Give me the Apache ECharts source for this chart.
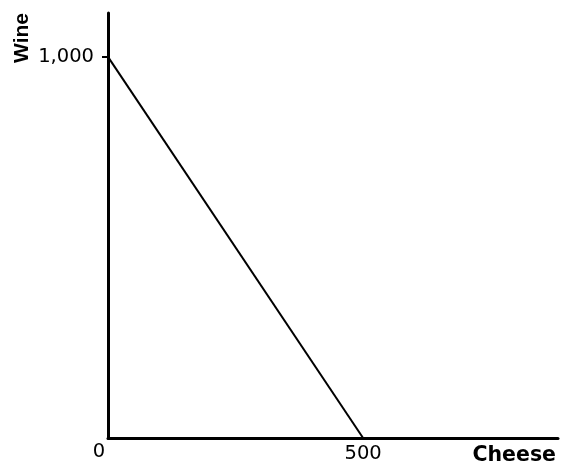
<!DOCTYPE html>
<html>
<head>
<meta charset="utf-8">
<script src="https://cdn.jsdelivr.net/npm/echarts@6/dist/echarts.min.js"></script>
<style>html,body{margin:0;padding:0;background:#fff}#c{width:561px;height:466px}</style>
</head>
<body>
<div id="c"></div>
<script>
var cheese = [0, 500];
var wine = [1000, 0];
var xTickLabels = [0, 500];
var yTickLabels = [1000];
var xName = 'Cheese';
var yName = 'Wine';

var chart = echarts.init(document.getElementById('c'), null, {renderer: 'canvas'});
var pts = cheese.map(function (c, i) { return [c, wine[i]]; });
chart.setOption({
  animation: false,
  backgroundColor: '#fff',
  grid: {left: 108, right: 3, top: 13, bottom: 26, containLabel: false},
  xAxis: {
    type: 'value', min: 0, max: 882, interval: 500,
    name: xName, nameLocation: 'end', nameGap: -2,
    nameTextStyle: {fontFamily: 'DejaVu Sans', fontWeight: 'bold', fontSize: 20.5, color: '#000', align: 'right', verticalAlign: 'top', padding: [7, 0, 0, 0]},
    axisLine: {show: true, onZero: false, lineStyle: {color: '#000', width: 3}},
    axisTick: {show: false},
    splitLine: {show: false},
    axisLabel: {
      customValues: xTickLabels, margin: 4, color: '#000', fontFamily: 'DejaVu Sans', fontSize: 19.5,
      formatter: function (v) { return v === 0 ? '{o|0}' : '{f|' + v + '}'; },
      rich: {
        o: {fontFamily: 'DejaVu Sans', fontSize: 19.5, color: '#000', padding: [0, 18, 0, 0]},
        f: {fontFamily: 'DejaVu Sans', fontSize: 19.5, color: '#000', padding: [2, 0, 0, 0]}
      }
    }
  },
  yAxis: {
    type: 'value', min: 0, max: 1115, interval: 1000,
    axisLine: {show: true, onZero: false, lineStyle: {color: '#000', width: 3}},
    axisTick: {show: true, customValues: yTickLabels, length: 6, lineStyle: {color: '#000', width: 2}},
    splitLine: {show: false},
    axisLabel: {
      customValues: yTickLabels, margin: 14, color: '#000', fontFamily: 'DejaVu Sans', fontSize: 19.5,
      formatter: function (v) { return v.toLocaleString('en-US'); }
    }
  },
  graphic: [{
    type: 'text', left: 12, top: 13, rotation: Math.PI / 2,
    style: {text: yName, fontFamily: 'Liberation Sans', fontWeight: 'bold', fontSize: 21, fill: '#000'}
  }],
  series: [{
    type: 'line', data: pts, showSymbol: false, symbol: 'none',
    lineStyle: {color: '#000', width: 2}
  }]
});
</script>
</body>
</html>
